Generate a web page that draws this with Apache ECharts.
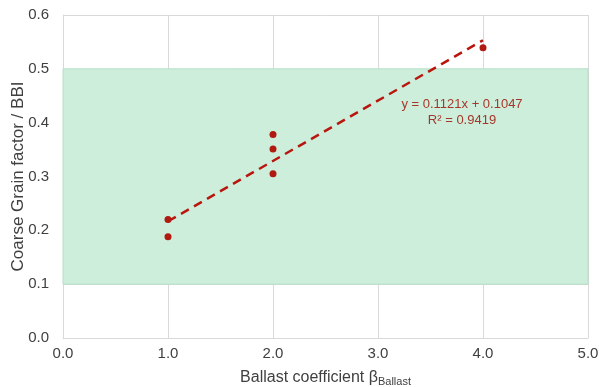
<!DOCTYPE html>
<html>
<head>
<meta charset="utf-8">
<script src="https://cdn.jsdelivr.net/npm/echarts@6/dist/echarts.min.js"></script>
<style>
  html, body { margin: 0; padding: 0; background: #fff; }
  #chart { width: 599px; height: 387px; }
</style>
</head>
<body>
<div id="chart"></div>
<script>
// measured points
const ballastCoef = [1, 1, 2, 2, 2, 4]
const grainFactor = [0.220, 0.188, 0.378, 0.351, 0.305, 0.539]

// linear trend (from the chart's label)
const slope = 0.1121
const intercept = 0.1047
const trendX = [1, 4]

// target band
const bandLow = 0.1
const bandHigh = 0.5

const xTicks = [0, 1, 2, 3, 4, 5]
const yTicks = [0, 0.1, 0.2, 0.3, 0.4, 0.5, 0.6]

const font = "'Liberation Sans', Arial, sans-serif"
const chart = echarts.init(document.getElementById('chart'))

chart.setOption({
  animation: false,
  grid: { left: 63, right: 11, top: 15, bottom: 49, outerBoundsMode: 'none' },
  xAxis: {
    type: 'value',
    min: xTicks[0],
    max: xTicks[xTicks.length - 1],
    interval: 1,
    axisLine: { lineStyle: { color: '#d9d9d9' } },
    axisTick: { show: false },
    splitLine: { lineStyle: { color: '#d9d9d9' } },
    axisLabel: {
      color: '#404040', fontSize: 15, fontFamily: font, margin: 8,
      formatter: v => v.toFixed(1)
    },
    name: '{a|Ballast coefficient β}{s|Ballast}',
    nameLocation: 'middle',
    nameGap: 30,
    nameMoveOverlap: false,
    nameTextStyle: {
      rich: {
        a: { color: '#404040', fontSize: 16, fontFamily: font },
        s: { color: '#404040', fontSize: 11, fontFamily: font, padding: [8, 0, 0, 0] }
      }
    }
  },
  yAxis: {
    type: 'value',
    min: yTicks[0],
    max: yTicks[yTicks.length - 1],
    interval: 0.1,
    axisLine: { show: true, lineStyle: { color: '#d9d9d9' } },
    axisTick: { show: false },
    splitLine: { lineStyle: { color: '#d9d9d9' } },
    axisLabel: {
      color: '#404040', fontSize: 15, fontFamily: font, margin: 14,
      formatter: v => v.toFixed(1)
    },
    name: 'Coarse Grain factor / BBI',
    nameLocation: 'middle',
    nameGap: 36,
    nameMoveOverlap: false,
    nameTextStyle: { color: '#404040', fontSize: 17, fontFamily: font }
  },
  graphic: [{
    type: 'text',
    x: 462,
    y: 96,
    z: 10,
    style: {
      text: 'y = 0.1121x + 0.1047\nR² = 0.9419',
      fill: '#a5372a',
      fontSize: 13,
      fontFamily: font,
      lineHeight: 16,
      align: 'center'
    }
  }],
  series: [
    {
      type: 'line',
      data: [],
      silent: true,
      markArea: {
        silent: true,
        itemStyle: { color: '#cdeedb', opacity: 1, borderColor: '#b6e0c6', borderWidth: 1 },
        data: [[{ yAxis: bandLow }, { yAxis: bandHigh }]]
      }
    },
    {
      type: 'line',
      data: trendX.map(x => [x, slope * x + intercept]),
      symbol: 'none',
      z: 3,
      lineStyle: { color: '#b8160e', width: 2.5, type: [9, 6] }
    },
    {
      type: 'scatter',
      data: ballastCoef.map((x, i) => [x, grainFactor[i]]),
      symbolSize: 7,
      z: 4,
      itemStyle: { color: '#b01a10', opacity: 1 }
    }
  ]
})
</script>
</body>
</html>
